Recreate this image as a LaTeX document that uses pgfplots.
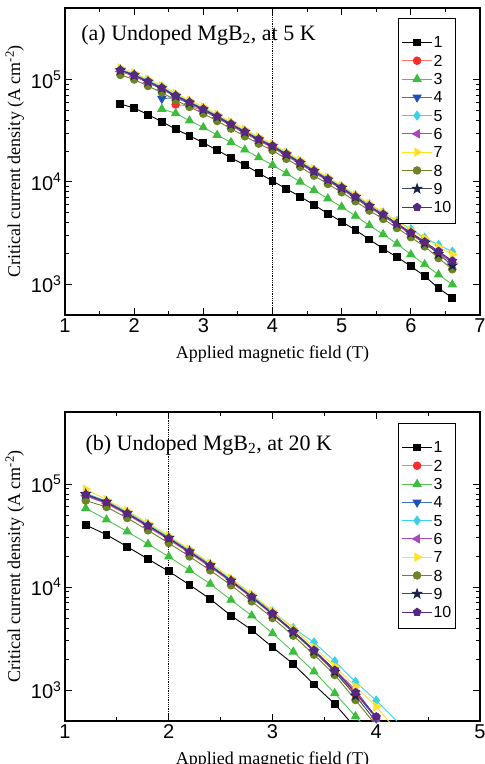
\documentclass[border=0pt]{standalone}
\usepackage{fontspec}
\setmainfont{Liberation Serif}
\setsansfont{Liberation Sans}
\usepackage{pgfplots}
\pgfplotsset{compat=1.18}
\usepackage{pgfplotstable}
\usetikzlibrary{plotmarks}

\definecolor{c2}{RGB}{250,45,45}
\definecolor{c2l}{RGB}{250,120,110}
\definecolor{c3}{RGB}{60,190,60}
\definecolor{c3l}{RGB}{80,195,80}
\definecolor{c4}{RGB}{30,80,185}
\definecolor{c4l}{RGB}{60,110,200}
\definecolor{c5}{RGB}{60,210,230}
\definecolor{c6}{RGB}{170,70,190}
\definecolor{c7}{RGB}{255,225,40}
\definecolor{c8}{RGB}{110,130,40}
\definecolor{c9}{RGB}{25,35,70}
\definecolor{c9l}{RGB}{60,70,95}
\definecolor{c10}{RGB}{85,40,130}

\pgfdeclareplotmark{fstar}{%
  \pgfpathmoveto{\pgfpointpolar{90}{1.25\pgfplotmarksize}}%
  \pgfpathlineto{\pgfpointpolar{126}{0.5\pgfplotmarksize}}%
  \pgfpathlineto{\pgfpointpolar{162}{1.25\pgfplotmarksize}}%
  \pgfpathlineto{\pgfpointpolar{198}{0.5\pgfplotmarksize}}%
  \pgfpathlineto{\pgfpointpolar{234}{1.25\pgfplotmarksize}}%
  \pgfpathlineto{\pgfpointpolar{270}{0.5\pgfplotmarksize}}%
  \pgfpathlineto{\pgfpointpolar{306}{1.25\pgfplotmarksize}}%
  \pgfpathlineto{\pgfpointpolar{342}{0.5\pgfplotmarksize}}%
  \pgfpathlineto{\pgfpointpolar{18}{1.25\pgfplotmarksize}}%
  \pgfpathlineto{\pgfpointpolar{54}{0.5\pgfplotmarksize}}%
  \pgfpathclose
  \pgfusepathqfillstroke
}

\pgfplotstableread{
x   s1     s2     s3     s4     s5     s6     s7     s8     s9     s10
1.8 57700  nan    nan    nan    126000 120000 130000 111000 122800 124000
2.0 52700  nan    nan    nan    113000 107700 116500 100000 109900 111000
2.2 45400  nan    nan    nan    98000  93100  100800 86400  95000  96000
2.4 38700  nan    51500  65000  84700  80500  87150  74700  82200  83000
2.6 32800  57000  46800  66500  71100  67600  73200  62700  69000  69700
2.8 28200  55000  39600  58500  61200  58200  63000  54000  59400  60000
3.0 24100  49500  34100  50200  52500  50000  54100  46400  51000  51500
3.2 20400  42000  28700  42600  44600  42400  45900  39300  43300  43700
3.4 17200  35300  24300  35900  37500  35700  38600  33100  36400  36800
3.6 14600  29800  20600  30200  31600  30100  32600  27900  30700  31000
3.8 12200  25200  17300  25500  26700  25400  27500  23600  25900  26200
4.0 10200  21600  14600  21900  23000  21800  23600  20300  22300  22500
4.2 8540   18000  12100  18200  19100  18100  19600  16800  18500  18700
4.4 7180   14900  10000  15100  15800  15000  16300  14000  15300  15500
4.6 5950   12300  8290   12500  13100  12400  13400  11500  12700  12800
4.8 4900   10200  6870   10300  10800  10300  11100  9540   10500  10600
5.0 4090   8450   5690   8580   9000   8540   9240   7920   8710   8800
5.2 3380   6890   4640   7000   7400   6960   7540   6460   7110   7180
5.4 2740   5590   3760   5680   6050   5650   6110   5240   5760   5820
5.6 2220   4630   3070   4700   5020   4680   5060   4340   4770   4820
5.8 1840   3770   2480   3830   4150   3810   4130   3540   3890   3930
6.0 1500   3070   1950   3120   3450   3100   3360   2880   3150   3200
6.2 1200   2500   1560   2540   2850   2520   2800   2340   2520   2600
6.4 914    2010   1240   2050   2420   2040   2300   1800   1980   2100
6.6 735    1620   993    1650   2080   1640   1950   1400   1520   1690
}\dataA

\pgfplotstableread{
x   s1     s2     s3     s4     s5     s6     s7     s8     s9     s10
1.2 40000  76400  58100  79000  81200  77200  89000  69000  80000  78800
1.4 32200  64400  45100  66500  68400  65100  70400  59800  67000  66400
1.6 24600  50300  34500  52000  53500  50900  55000  46700  52000  51900
1.8 18700  38200  26100  39400  40600  38600  41800  35500  39500  39400
2.0 14200  28800  19700  29700  30600  29100  31500  26700  29800  29700
2.2 10500  21300  14600  22000  22700  21600  23300  19800  22100  22000
2.4 7640   15600  10700  16100  16600  15800  17100  14500  16200  16100
2.6 5270   11200  7480   11500  11800  11300  12200  10400  11500  11500
2.8 3830   7810   5270   8050   8300   7890   8530   7250   8000   8050
3.0 2600   5380   3550   5550   5800   5440   5880   5000   5450   5550
3.2 1790   3630   2350   3740   4000   3670   3960   3370   3650   3740
3.4 1130   2370   1510   2440   2900   2390   2590   2200   2380   2440
3.6 731    1510   929    1560   1900   1580   1700   1400   1500   1560
3.8 430    920    555    940    1200   1000   1080   800    880    948
4.0 nan    530    322    530    790    540    690    450    490    551
4.2 nan    300    nan    300    497    300    400    250    270    310
}\dataB

\pgfplotsset{
  s1/.style={draw=black, line width=0.9pt, mark=square*, mark size=3.4pt, mark options={draw=black, fill=black}},
  s2/.style={draw=c2l, line width=0.9pt, mark=*, mark size=3.8pt, mark options={draw=c2, fill=c2}},
  s3/.style={draw=c3l, line width=0.9pt, mark=triangle*, mark size=4.6pt, mark options={draw=c3, fill=c3}},
  s4/.style={draw=c4l, line width=0.9pt, mark=triangle*, mark size=4.6pt, mark options={draw=c4, fill=c4, rotate=180}},
  s5/.style={draw=c5, line width=0.9pt, mark=diamond*, mark size=4.4pt, mark options={draw=c5, fill=c5}},
  s6/.style={draw=c6, line width=0.9pt, mark=triangle*, mark size=4.6pt, mark options={draw=c6, fill=c6, rotate=90}},
  s7/.style={draw=c7, line width=0.9pt, mark=triangle*, mark size=4.6pt, mark options={draw=c7, fill=c7, rotate=-90}},
  s8/.style={draw=c8, line width=0.9pt, mark=*, mark size=3.8pt, mark options={draw=c8, fill=c8}},
  s9/.style={draw=c9l, line width=0.9pt, mark=fstar, mark size=3.8pt, mark options={draw=c9, fill=c9}},
  s10/.style={draw=c10, line width=0.9pt, mark=pentagon*, mark size=4pt, mark options={draw=c10, fill=c10}},
}

\pgfplotsset{
  every axis/.append style={
    scale only axis,
    width=415pt,
    ymin=500, ymax=500000,
    ytick={1000,10000,100000},
    yticklabels={10\textsuperscript{3},10\textsuperscript{4},10\textsuperscript{5}},
    minor x tick num=1,
    tick align=inside,
    major tick length=7pt,
    minor tick length=4pt,
    every tick/.style={black, line width=0.9pt},
    axis line style={line width=1.3pt},
    /pgf/number format/assume math mode=true,
    tick label style={font=\fontsize{20}{20}\selectfont\sffamily},
    label style={font=\fontsize{18}{18}\selectfont},
    xlabel style={yshift=-6pt},
    xlabel={Applied magnetic field (T)},
    ylabel={Critical current density (A cm\textsuperscript{-2})},
    legend cell align=left,
    legend style={anchor=north east, draw=black, line width=1.2pt, fill=white,
      font=\fontsize{16}{16}\selectfont\sffamily,
      inner xsep=3pt, inner ysep=10pt, row sep=5.2pt,
      nodes={inner sep=1pt, text depth=0pt}},
  },
  legend image code/.code={\draw[mark repeat=2,mark phase=2,#1] plot coordinates {(0pt,0pt) (15pt,0pt) (30pt,0pt)};},
}

\begin{document}
\begin{tikzpicture}
\begin{axis}[ymode=log, at={(0pt,0pt)}, anchor=south west, height=307pt,
  xmin=1, xmax=7, xtick={1,2,3,4,5,6,7},
  legend style={at={(rel axis cs:0.942,0.967)}}]
\addlegendimage{empty legend}\addlegendentry{}
\addplot[black, densely dotted, line width=0.8pt, forget plot] coordinates {(4,500) (4,500000)};
\addplot[s1] table[x=x, y=s1] {\dataA}; \addlegendentry{1}
\addplot[s2] table[x=x, y=s2] {\dataA}; \addlegendentry{2}
\addplot[s3] table[x=x, y=s3] {\dataA}; \addlegendentry{3}
\addplot[s4] table[x=x, y=s4] {\dataA}; \addlegendentry{4}
\addplot[s5] table[x=x, y=s5] {\dataA}; \addlegendentry{5}
\addplot[s6] table[x=x, y=s6] {\dataA}; \addlegendentry{6}
\addplot[s7] table[x=x, y=s7] {\dataA}; \addlegendentry{7}
\addplot[s8] table[x=x, y=s8] {\dataA}; \addlegendentry{8}
\addplot[s9] table[x=x, y=s9] {\dataA}; \addlegendentry{9}
\addplot[s10] table[x=x, y=s10] {\dataA}; \addlegendentry{10}
\node[anchor=west, font=\fontsize{22}{22}\selectfont] at (rel axis cs:0.031,0.912) {(a) Undoped MgB\textsubscript{2}, at 5 K};
\end{axis}

\begin{axis}[ymode=log, at={(0pt,-406pt)}, anchor=south west, height=309pt,
  xmin=1, xmax=5, xtick={1,2,3,4,5},
  legend style={at={(rel axis cs:0.942,0.964)}}]
\addlegendimage{empty legend}\addlegendentry{}
\addplot[black, densely dotted, line width=0.8pt, forget plot] coordinates {(2,500) (2,500000)};
\addplot[s1] table[x=x, y=s1] {\dataB}; \addlegendentry{1}
\addplot[s2] table[x=x, y=s2] {\dataB}; \addlegendentry{2}
\addplot[s3] table[x=x, y=s3] {\dataB}; \addlegendentry{3}
\addplot[s4] table[x=x, y=s4] {\dataB}; \addlegendentry{4}
\addplot[s5] table[x=x, y=s5] {\dataB}; \addlegendentry{5}
\addplot[s6] table[x=x, y=s6] {\dataB}; \addlegendentry{6}
\addplot[s7] table[x=x, y=s7] {\dataB}; \addlegendentry{7}
\addplot[s8] table[x=x, y=s8] {\dataB}; \addlegendentry{8}
\addplot[s9] table[x=x, y=s9] {\dataB}; \addlegendentry{9}
\addplot[s10] table[x=x, y=s10] {\dataB}; \addlegendentry{10}
\node[anchor=west, font=\fontsize{22}{22}\selectfont] at (rel axis cs:0.041,0.893) {(b) Undoped MgB\textsubscript{2}, at 20 K};
\end{axis}
\pgfresetboundingbox
\path[use as bounding box] (-65pt,-449pt) rectangle (420pt,315pt);
\end{tikzpicture}
\end{document}
